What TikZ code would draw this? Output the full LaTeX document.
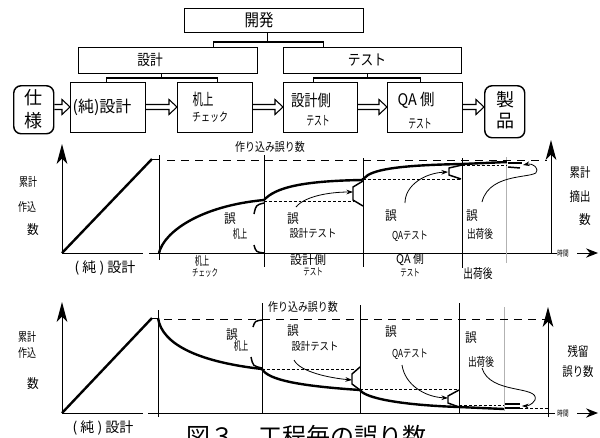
\documentclass[tikz,border=0pt]{standalone}
\usepackage{fontspec}
\usepackage{graphicx}
\newfontfamily\jp{Noto Sans CJK JP}
\usetikzlibrary{arrows.meta,calc}
\newcommand\tx[3]{\fontsize{#1}{#1}\selectfont\scalebox{#2}[1]{#3}}
\begin{document}
\begin{tikzpicture}[x=0.75pt,y=-0.75pt,
  box/.style={draw, line width=0.9pt, inner sep=0pt, anchor=north west},
  rbox/.style={box, rounded corners=5.5pt, line width=1.1pt},
  t/.style={inner sep=0pt, font=\jp},
  tree/.style={line width=0.8pt},
  harrow/.style={line width=0.8pt, line join=miter},
  ax/.style={line width=0.75pt},
  thk/.style={line width=1.8pt},
  ldash/.style={line width=0.7pt, dash pattern=on 6pt off 4.5pt},
  sdash/.style={line width=0.6pt, dash pattern=on 2.2pt off 1.5pt},
  brk/.style={line width=1.1pt},
  pt/.style={line width=0.6pt, -{Stealth[length=5pt,width=3.5pt]}},
  gdiv/.style={line width=0.75pt, gray!60},
  bigtip/.style={-{Stealth[length=15pt,width=8pt,inset=4pt]}},
  smalltip/.style={-{Stealth[length=9pt,width=7pt,inset=3pt]}}
]
\useasboundingbox[fill=white] (0,0) rectangle (600,437);

% ---------- top hierarchy ----------
\node[box, minimum width=179*0.75pt, minimum height=24*0.75pt] (dev) at (184,8) {};
\node[box, minimum width=179*0.75pt, minimum height=26*0.75pt] (des) at (78,47) {};
\node[box, minimum width=178*0.75pt, minimum height=26*0.75pt] (tst) at (283,47) {};
\node[t] at (259,20) {\tx{12.75pt}{0.85}{開発}};
\node[t] at (150,60) {\tx{11.25pt}{0.85}{設計}};
\node[t] at (367,60) {\tx{11.25pt}{0.85}{テスト}};

\node[rbox, minimum width=40*0.75pt, minimum height=48*0.75pt] (spec) at (13,85) {};
\node[box, minimum width=75*0.75pt, minimum height=50*0.75pt] (pd) at (70,82) {};
\node[box, minimum width=75*0.75pt, minimum height=50*0.75pt] (desk) at (177,82) {};
\node[box, minimum width=74*0.75pt, minimum height=50*0.75pt] (dt) at (283,82) {};
\node[box, minimum width=75*0.75pt, minimum height=50*0.75pt] (qa) at (387,82) {};
\node[rbox, minimum width=40*0.75pt, minimum height=52*0.75pt] (prod) at (484,85) {};

\node[t] at (33,98) {\tx{13.5pt}{1}{仕}};
\node[t] at (33,121) {\tx{13.5pt}{1}{様}};
\node[t] at (102,107) {\tx{12pt}{1}{(純)設計}};
\node[t] at (203,99) {\tx{12pt}{0.65}{机上}};
\node[t] at (210,117) {\tx{9pt}{0.75}{チェック}};
\node[t] at (311,100) {\tx{12pt}{0.83}{設計側}};
\node[t] at (318,121) {\tx{9.75pt}{0.6}{テスト}};
\node[t] at (416,100) {\tx{12pt}{0.9}{QA 側}};
\node[t] at (420,124) {\tx{9.75pt}{0.6}{テスト}};
\node[t] at (505,100) {\tx{13.5pt}{1}{製}};
\node[t] at (505,121) {\tx{13.5pt}{1}{品}};

% tree connectors
\coordinate (pA) at ($(dev.south west)!0.464!(dev.south east)$);
\coordinate (cA1) at ($(des.north west)!0.75!(des.north east)$);
\coordinate (cA2) at ($(tst.north west)!0.225!(tst.north east)$);
\draw[tree] (pA) -- ++(0,10);
\draw[tree] (cA1) -- ++(0,-5) -| (cA2);
\coordinate (pB) at ($(des.south west)!0.464!(des.south east)$);
\coordinate (cB1) at ($(pd.north west)!0.48!(pd.north east)$);
\coordinate (cB2) at ($(desk.north west)!0.533!(desk.north east)$);
\draw[tree] (pB) -- ++(0,5);
\draw[tree] (cB1) -- ++(0,-4) -| (cB2);
\coordinate (pC) at ($(tst.south west)!0.472!(tst.south east)$);
\coordinate (cC1) at ($(dt.north west)!0.405!(dt.north east)$);
\coordinate (cC2) at ($(qa.north west)!0.44!(qa.north east)$);
\draw[tree] (pC) -- ++(0,5);
\draw[tree] (cC1) -- ++(0,-4) -| (cC2);

% hollow arrows
\coordinate (mid) at (0,107);
\newcommand\harr[2]{\draw[harrow] ($(#1.east|-mid)+(0,-2.5)$) -- ($(#2.west|-mid)+(-8,-2.5)$) -- ($(#2.west|-mid)+(-8,-7.5)$) -- (#2.west|-mid) -- ($(#2.west|-mid)+(-8,7.5)$) -- ($(#2.west|-mid)+(-8,2.5)$) -- ($(#1.east|-mid)+(0,2.5)$);}
\harr{spec}{pd}
\harr{pd}{desk}
\harr{desk}{dt}
\harr{dt}{qa}
\harr{qa}{prod}

% ---------- upper chart ----------
\draw[ax, bigtip] (62,253) -- (62,144);
\draw[ax] (62,253) -- (143,253);
\draw[thk] (62,253) -- (152,159);
\draw[ax] (152,159) -- (159,159);
\draw[ax] (149,253) -- (557,253);
\draw[ax] (159,155) -- (159,260);
\draw[ax] (264,155) -- (264,267);
\draw[ax] (363,158) -- (363,267);
\draw[ax] (462,158) -- (462,268);
\draw[gdiv] (506,157) -- (506,263);
\draw[ax, bigtip] (551,253) -- (551,140);
\draw[ldash] (167,160) -- (547,160);
\node[t] at (563,253) {\tx{6pt}{0.7}{時間}};
\draw[ax, smalltip] (577,253) -- (598,253);

\draw[thk] (159,253) .. controls (164,232) and (200,206) .. (264,200);
\draw[thk] (264,200) .. controls (275,188) and (300,181) .. (362,180);
\draw[thk] (362,180) -- (368,175) .. controls (380,168) and (410,165) .. (462,164);
\draw[thk] (462,164) -- (507,162);
\draw[sdash] (264,201) -- (353,201);
\draw[sdash] (363,179) -- (460,179);
\draw[sdash] (462,165) -- (507,165);

\draw[brk] (264,203) .. controls (256,205) .. (254,214);
\draw[brk] (254,245) .. controls (256,252) .. (264,253);
\draw[brk] (363,181) -- (353,187) -- (353,200) -- (363,206);
\draw[brk] (462,165) -- (449,168) -- (449,175) -- (461,179);
\draw[brk] (508,163) -- (522,163);
\draw[brk] (508,167) -- (520,168);

\draw[pt] (296,207) .. controls (305,196) and (330,192) .. (353,192);
\draw[pt] (405,203) .. controls (405,185) and (425,173) .. (448,172);
\draw[pt] (482,202) .. controls (490,170) and (540,180) .. (537,170) .. controls (535,163) and (528,164) .. (523,165);

\node[t] at (270,147) {\tx{9pt}{0.83}{作り込み誤り数}};
\node[t] at (28,182) {\tx{9pt}{0.75}{累計}};
\node[t] at (27,207) {\tx{9pt}{0.75}{作込}};
\node[t] at (33,230) {\tx{9.75pt}{0.9}{数}};
\node[t] at (105,268) {\tx{10.5pt}{1}{( 純 ) 設計}};
\node[t] at (202,261) {\tx{9pt}{0.6}{机上}};
\node[t] at (205,273) {\tx{7.5pt}{0.65}{チェック}};
\node[t] at (230,219) {\tx{9.75pt}{0.9}{誤}};
\node[t] at (240,234) {\tx{9pt}{0.6}{机上}};
\node[t] at (293,219) {\tx{9.75pt}{0.9}{誤}};
\node[t] at (313,233) {\tx{8.25pt}{0.85}{設計テスト}};
\node[t] at (308,260) {\tx{9pt}{1}{設計側}};
\node[t] at (313,272) {\tx{7.5pt}{0.65}{テスト}};
\node[t] at (391,216) {\tx{9.75pt}{0.9}{誤}};
\node[t] at (410,236) {\tx{8.25pt}{0.75}{QAテスト}};
\node[t] at (410,260) {\tx{9pt}{0.9}{QA 側}};
\node[t] at (410,273) {\tx{7.5pt}{0.65}{テスト}};
\node[t] at (472,216) {\tx{9.75pt}{0.9}{誤}};
\node[t] at (480,234) {\tx{9pt}{0.72}{出荷後}};
\node[t] at (478,274) {\tx{9.75pt}{0.75}{出荷後}};
\node[t] at (580,173) {\tx{9.75pt}{0.8}{累計}};
\node[t] at (580,197) {\tx{9.75pt}{0.8}{摘出}};
\node[t] at (585,220) {\tx{9.75pt}{0.9}{数}};

% ---------- lower chart ----------
\draw[ax, bigtip] (62,413) -- (62,302);
\draw[ax] (62,413) -- (143,413);
\draw[thk] (62,413) -- (152,318);
\draw[ax] (152,318) -- (158,318);
\draw[ax] (148,413) -- (555,413);
\draw[ax] (158,310) -- (158,417);
\draw[ax] (262,303) -- (262,413);
\draw[ax] (360,305) -- (360,413);
\draw[ax] (459,303) -- (459,413);
\draw[gdiv] (504,307) -- (504,411);
\draw[ax, bigtip] (548,417) -- (548,307);
\draw[ldash] (164,319) -- (547,319);
\node[t] at (563,413) {\tx{6pt}{0.7}{時間}};
\draw[ax, smalltip] (577,413) -- (598,413);

\draw[thk] (158,318) .. controls (162,345) and (200,362) .. (262,369);
\draw[thk] (262,369) .. controls (268,380) and (300,386) .. (360,390);
\draw[thk] (360,390) .. controls (365,398) and (400,405) .. (459,407);
\draw[thk] (459,407) -- (504,409);
\draw[sdash] (262,369) -- (355,369);
\draw[sdash] (360,389) -- (458,389);
\draw[sdash] (459,405) -- (504,405);
\draw[sdash] (520,408) -- (548,408);

\draw[brk] (262,320) .. controls (255,321) .. (253,327);
\draw[brk] (251,357) .. controls (253,366) .. (262,368);
\draw[brk] (360,367) -- (352,374) -- (352,384) -- (360,390);
\draw[brk] (459,390) -- (448,396) -- (448,403) -- (459,407);
\draw[brk] (505,404) -- (520,404);
\draw[brk] (505,408) -- (520,408);

\draw[pt] (294,360) .. controls (300,372) and (330,378) .. (352,380);
\draw[pt] (402,365) .. controls (405,385) and (425,397) .. (448,398);
\draw[pt] (482,368) .. controls (490,395) and (540,385) .. (535,400) .. controls (532,405) and (527,406) .. (522,406);

\node[t] at (303,307) {\tx{9pt}{0.83}{作り込み誤り数}};
\node[t] at (27,337) {\tx{9pt}{0.75}{累計}};
\node[t] at (27,353) {\tx{9pt}{0.75}{作込}};
\node[t] at (33,384) {\tx{9.75pt}{0.9}{数}};
\node[t] at (103,428) {\tx{10.5pt}{1}{( 純 ) 設計}};
\node[t] at (232,335) {\tx{9.75pt}{0.9}{誤}};
\node[t] at (241,346) {\tx{9pt}{0.6}{机上}};
\node[t] at (293,331) {\tx{9.75pt}{0.9}{誤}};
\node[t] at (315,346) {\tx{8.25pt}{0.85}{設計テスト}};
\node[t] at (391,332) {\tx{9.75pt}{0.9}{誤}};
\node[t] at (410,354) {\tx{8.25pt}{0.75}{QAテスト}};
\node[t] at (471,338) {\tx{9.75pt}{0.9}{誤}};
\node[t] at (481,362) {\tx{9pt}{0.72}{出荷後}};
\node[t] at (578,351) {\tx{9.75pt}{0.8}{残留}};
\node[t] at (578,372) {\tx{9.75pt}{0.8}{誤り数}};

% caption (cut by the page edge)
\node[t, anchor=north west] at (186,425) {\tx{18pt}{1}{図３　工程毎の誤り数}};
\end{tikzpicture}
\end{document}
